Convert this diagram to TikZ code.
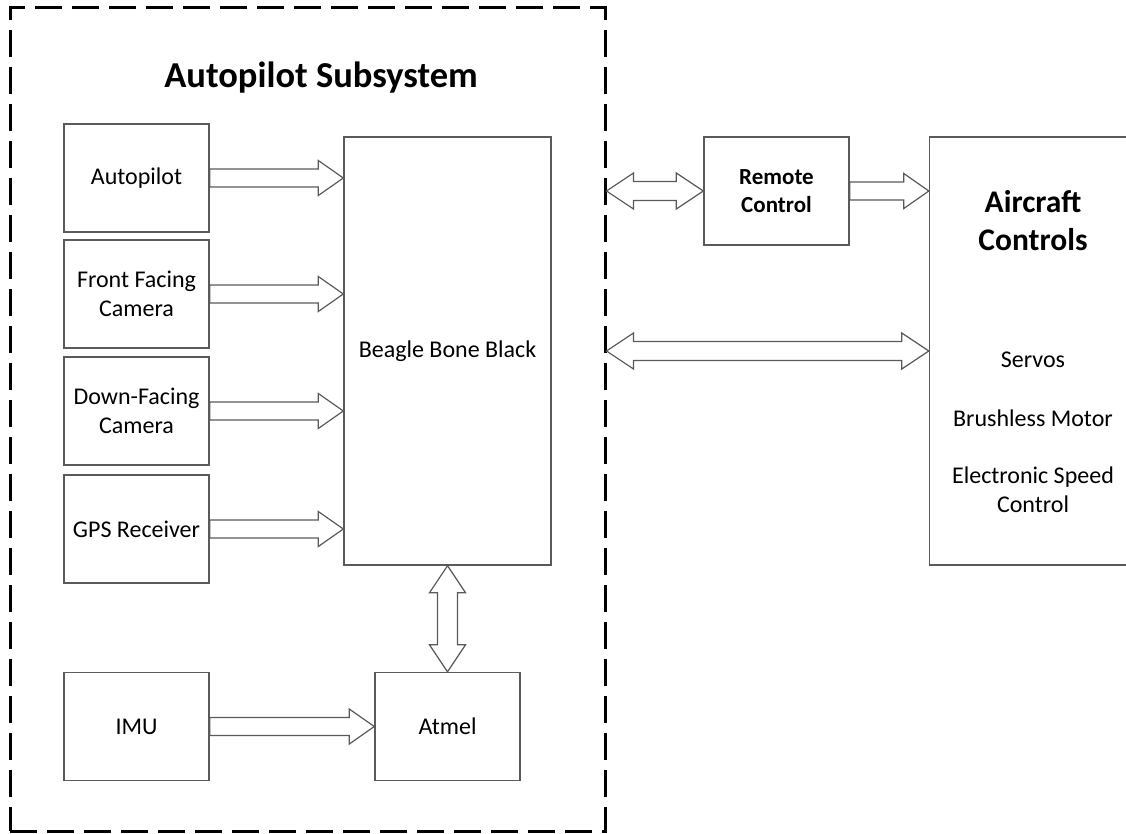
\documentclass[tikz,border=0pt]{standalone}
\usepackage{fontspec}
\setmainfont{Carlito}
\usetikzlibrary{calc}
\definecolor{edgegray}{RGB}{90,90,90}

\begin{document}
\begin{tikzpicture}[
    x=1pt,y=-1pt,font=\fontsize{24}{29}\selectfont,
    block/.style={draw=edgegray,line width=1.4pt,fill=white,align=center,
        minimum width=145pt,minimum height=108pt,inner sep=2pt},
    tall/.style={block,minimum width=207pt,minimum height=428pt},
    subsys/.style={draw=black,line width=3pt,dash pattern=on 27pt off 10pt,
        minimum width=595pt,minimum height=823pt,inner sep=0pt},
    pipe/.style={draw=edgegray,line width=1.2pt,fill=white,line join=miter},
    hsingle/.style={to path={let \p1=(\tikztostart),\p2=(\tikztotarget) in
        (\x1,{\y1+9pt}) -- ({\x2-25pt},{\y1+9pt}) -- ({\x2-25pt},{\y1+17.5pt})
        -- (\x2,\y1) -- ({\x2-25pt},{\y1-17.5pt}) -- ({\x2-25pt},{\y1-9pt})
        -- (\x1,{\y1-9pt}) -- cycle}},
    hdouble/.style={to path={let \p1=(\tikztostart),\p2=(\tikztotarget) in
        (\x1,\y1) -- ({\x1+27pt},{\y1+18pt}) -- ({\x1+27pt},{\y1+9.5pt})
        -- ({\x2-27pt},{\y1+9.5pt}) -- ({\x2-27pt},{\y1+18pt}) -- (\x2,\y1)
        -- ({\x2-27pt},{\y1-18pt}) -- ({\x2-27pt},{\y1-9.5pt})
        -- ({\x1+27pt},{\y1-9.5pt}) -- ({\x1+27pt},{\y1-18pt}) -- cycle}},
    vdouble/.style={to path={let \p1=(\tikztostart),\p2=(\tikztotarget) in
        (\x1,\y1) -- ({\x1+18pt},{\y1-27pt}) -- ({\x1+10pt},{\y1-27pt})
        -- ({\x1+10pt},{\y2+27pt}) -- ({\x1+18pt},{\y2+27pt}) -- (\x1,\y2)
        -- ({\x1-18pt},{\y2+27pt}) -- ({\x1-10pt},{\y2+27pt})
        -- ({\x1-10pt},{\y1-27pt}) -- ({\x1-18pt},{\y1-27pt}) -- cycle}},
    heading/.style={font=\fontsize{36.5}{44}\selectfont\bfseries},
    subheading/.style={font=\fontsize{31.5}{38}\selectfont\bfseries,align=center}
]
    \useasboundingbox (0,0) rectangle (1126,834);

    % autopilot side
    \node[subsys] (subsys) at (307.5,419.5) {};
    \node[heading] (title) at (321,78) {Autopilot Subsystem};

    \node[block] (autopilot) at (136.5,178) {Autopilot};
    \node[block] (front) at (136.5,294) {Front Facing\\Camera};
    \node[block] (down) at (136.5,411) {Down-Facing\\Camera};
    \node[block] (gps) at (136.5,529) {GPS Receiver};
    \node[block] (imu) at (136.5,726.5) {IMU};
    \node[tall] (bbb) at (447.5,351) {Beagle Bone Black};
    \node[block] (atmel) at (447.5,726.5) {Atmel};

    % aircraft side
    \node[block,font=\fontsize{23}{28}\selectfont\bfseries] (remote) at (776.5,191) {Remote\\Control};
    \node[tall] (aircraft) at (1033,351) {};
    \node[subheading] (aircrafttitle) at (1033,221) {Aircraft\\Controls};
    \node (servos) at (1033,360) {Servos};
    \node (motor) at (1033,418) {Brushless Motor};
    \node[align=center] (esc) at (1033,490) {Electronic Speed\\Control};

    % data links
    \foreach \sensor in {autopilot,front,down,gps}
        \path[pipe] (\sensor.east) to[hsingle] (bbb.west |- \sensor.east);
    \path[pipe] (imu.east) to[hsingle] (atmel.west |- imu.east);
    \path[pipe] (bbb.south) to[vdouble] (atmel.north);
    \path[pipe] (subsys.east |- remote.west) to[hdouble] (remote.west);
    \path[pipe] (remote.east) to[hsingle] (aircraft.west |- remote.east);
    \path[pipe] (subsys.east |- aircraft.west) to[hdouble] (aircraft.west);
\end{tikzpicture}
\end{document}
